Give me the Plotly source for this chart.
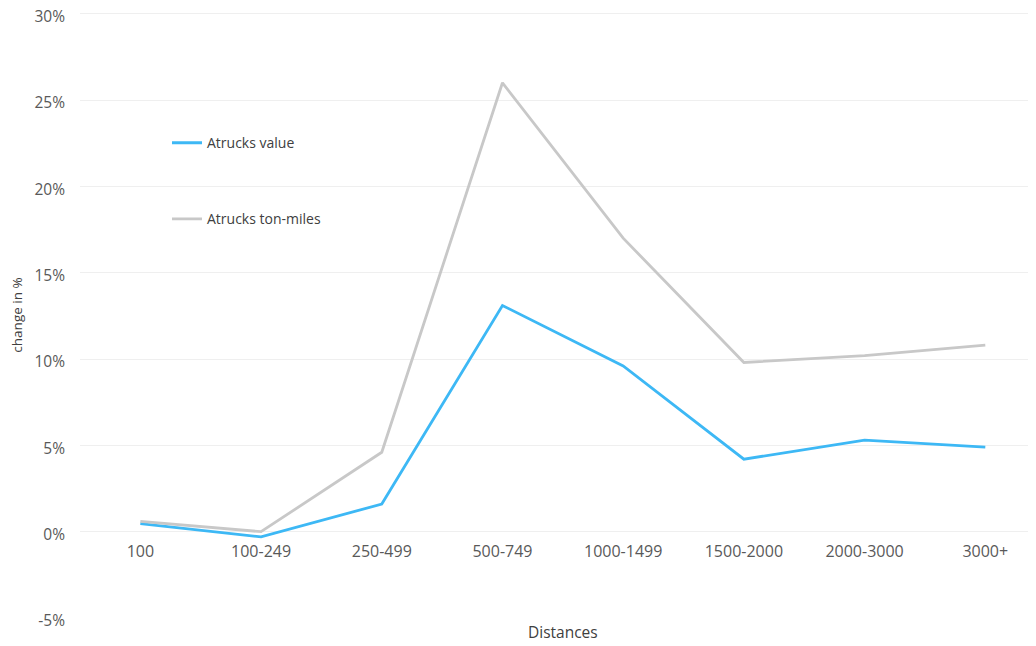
import plotly.graph_objects as go

categories = ["100", "100-249", "250-499", "500-749", "1000-1499", "1500-2000", "2000-3000", "3000+"]
value_change = [0.46, -0.3, 1.6, 13.1, 9.6, 4.2, 5.3, 4.9]
tonmiles_change = [0.6, 0.0, 4.6, 26.0, 17.0, 9.8, 10.2, 10.8]
y_ticks = [-5, 0, 5, 10, 15, 20, 25, 30]
y_labels = [f"{v}%" for v in y_ticks]

FONT = "Open Sans, Noto Sans, sans-serif"

fig = go.Figure()
fig.add_trace(go.Scatter(x=list(range(len(categories))), y=value_change, mode="lines",
                         name="Atrucks value", legendgroup="a",
                         line=dict(color="#3DB8F5", width=2.8)))
fig.add_trace(go.Scatter(x=list(range(len(categories))), y=tonmiles_change, mode="lines",
                         name="Atrucks ton-miles", legendgroup="b",
                         line=dict(color="#C8C8C8", width=2.8)))

y_range = [-5, 30.1]
zero_pos = (0 - y_range[0]) / (y_range[1] - y_range[0])

# page has an 8px body margin; figure coords = page coords - 8
fig.update_layout(
    width=1028, height=638,
    margin=dict(l=72, r=0, t=4, b=28, autoexpand=False),
    paper_bgcolor="white", plot_bgcolor="white",
    font=dict(family=FONT, size=14, color="#595959"),
    showlegend=True,
    legend=dict(x=0.091, y=0.81, xanchor="left", yanchor="top",
                bgcolor="rgba(0,0,0,0)", tracegroupgap=55,
                font=dict(size=14, color="#404040"), itemwidth=30),
    xaxis=dict(tickmode="array", tickvals=list(range(len(categories))), ticktext=categories,
               range=[-0.5, 7.42], showgrid=False, zeroline=False, showline=False,
               anchor="free", position=zero_pos, ticks="", ticklabelstandoff=8,
               automargin=False,
               tickfont=dict(size=16, color="#595959")),
    yaxis=dict(range=y_range, tickmode="array", tickvals=y_ticks, ticktext=y_labels,
               showgrid=True, gridcolor="#EFEFEF", gridwidth=1, zeroline=False,
               showline=False, ticks="", ticklabelstandoff=14, ticklabeloverflow="allow",
               ticklabelshift=3, automargin=False,
               tickfont=dict(size=15.5, color="#595959"),
               title=dict(text="change in %", font=dict(size=13.5, color="#404040"), standoff=8)),
    annotations=[dict(text="Distances", xref="paper", yref="paper",
                      x=(563 - 80) / 956, y=-14 / 606, yanchor="middle",
                      showarrow=False, font=dict(size=15.5, color="#404040"))],
)

fig.write_html("out.html")
